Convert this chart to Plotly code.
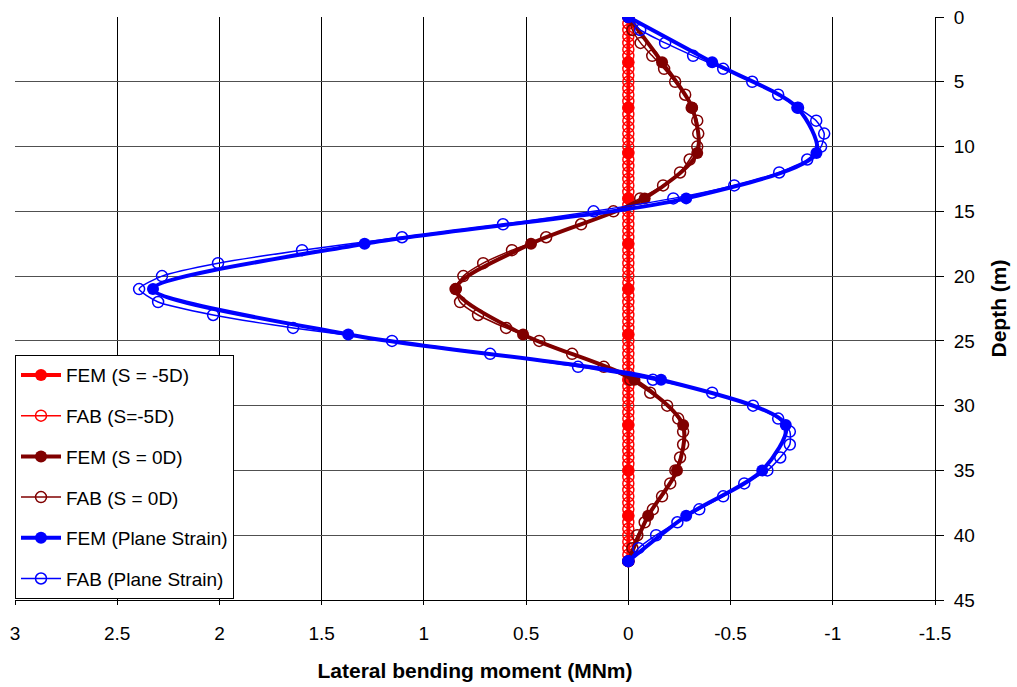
import plotly.graph_objects as go

# Depths (m)
depth_fem = [0, 3.5, 7, 10.5, 14, 17.5, 21, 24.5, 28, 31.5, 35, 38.5, 42]
depth_fab = [0, 1, 2, 3, 4, 5, 6, 7, 8, 9, 10, 11, 12, 13, 14, 15, 16, 17, 18, 19, 20,
             21, 22, 23, 24, 25, 26, 27, 28, 29, 30, 31, 32, 33, 34, 35, 36, 37, 38, 39,
             40, 41, 42]
depth_fab_5d = [0, 0.5, 1, 1.5, 2, 2.5, 3, 3.5, 4, 4.5, 5, 5.5, 6, 6.5, 7, 7.5, 8, 8.5,
                9, 9.5, 10, 10.5, 11, 11.5, 12, 12.5, 13, 13.5, 14, 14.5, 15, 15.5, 16,
                16.5, 17, 17.5, 18, 18.5, 19, 19.5, 20, 20.5, 21, 21.5, 22, 22.5, 23,
                23.5, 24, 24.5, 25, 25.5, 26, 26.5, 27, 27.5, 28, 28.5, 29, 29.5, 30,
                30.5, 31, 31.5, 32, 32.5, 33, 33.5, 34, 34.5, 35, 35.5, 36, 36.5, 37,
                37.5, 38, 38.5, 39, 39.5, 40, 40.5, 41, 41.5, 42]

# Lateral bending moment (MNm)
fem_m5d = [0, 0, 0, 0, 0, 0, 0, 0, 0, 0, 0, 0, 0]
fab_m5d = [0, 0, 0, 0, 0, 0, 0, 0, 0, 0, 0, 0, 0, 0, 0, 0, 0, 0, 0, 0, 0, 0, 0, 0, 0, 0,
           0, 0, 0, 0, 0, 0, 0, 0, 0, 0, 0, 0, 0, 0, 0, 0, 0, 0, 0, 0, 0, 0, 0, 0, 0, 0,
           0, 0, 0, 0, 0, 0, 0, 0, 0, 0, 0, 0, 0, 0, 0, 0, 0, 0, 0, 0, 0, 0, 0, 0, 0, 0,
           0, 0, 0, 0, 0, 0, 0, 0, 0]
fem_0d = [0, -0.165, -0.312, -0.337, -0.08, 0.476, 0.843, 0.515, -0.03, -0.268, -0.238,
          -0.097, 0]
fab_0d = [0, -0.02, -0.06, -0.117, -0.175, -0.229, -0.278, -0.31, -0.337, -0.342, -0.337,
          -0.30, -0.253, -0.17, -0.058, 0.073, 0.231, 0.402, 0.569, 0.71, 0.807, 0.845,
          0.823, 0.735, 0.598, 0.436, 0.275, 0.12, -0.01, -0.107, -0.19, -0.244, -0.268,
          -0.268, -0.253, -0.23, -0.205, -0.165, -0.12, -0.08, -0.044, -0.02, 0]
fem_ps = [0, -0.41, -0.826, -0.92, -0.283, 1.29, 2.325, 1.37, -0.16, -0.77, -0.655,
          -0.283, 0]
fab_ps = [0, -0.058, -0.18, -0.317, -0.464, -0.606, -0.733, -0.83, -0.919, -0.958, -0.943,
          -0.875, -0.738, -0.518, -0.22, 0.17, 0.613, 1.107, 1.596, 2.007, 2.281, 2.393,
          2.30, 2.031, 1.64, 1.156, 0.676, 0.246, -0.12, -0.41, -0.61, -0.733, -0.79,
          -0.79, -0.743, -0.68, -0.567, -0.464, -0.347, -0.24, -0.136, -0.05, 0]

x_ticks = [3, 2.5, 2, 1.5, 1, 0.5, 0, -0.5, -1, -1.5]
x_tick_labels = ["3", "2.5", "2", "1.5", "1", "0.5", "0", "-0.5", "-1", "-1.5"]
y_ticks = [0, 5, 10, 15, 20, 25, 30, 35, 40, 45]

RED = "#FF0000"
MAROON = "#800000"
BLUE = "#0000FF"
FONT = "Arial, 'Liberation Sans', sans-serif"


def fem_trace(x, y, name, color, grp):
    return go.Scatter(
        x=x, y=y, name=name, mode="lines+markers", legendgroup=grp,
        line=dict(color=color, width=4, shape="spline", smoothing=0.8),
        marker=dict(symbol="circle", size=12, color=color),
    )


def fab_trace(x, y, name, color, grp):
    return go.Scatter(
        x=x, y=y, name=name, mode="lines+markers", legendgroup=grp,
        line=dict(color=color, width=1.5, shape="spline", smoothing=0.6),
        marker=dict(symbol="circle-open", size=11, color=color, line=dict(width=1.5, color=color)),
    )


fig = go.Figure()
fig.add_trace(fem_trace(fem_m5d, depth_fem, "FEM (S = -5D)", RED, "a"))
fig.add_trace(fab_trace(fab_m5d, depth_fab_5d, "FAB (S=-5D)", RED, "b"))
fig.add_trace(fem_trace(fem_0d, depth_fem, "FEM (S = 0D)", MAROON, "c"))
fig.add_trace(fab_trace(fab_0d, depth_fab, "FAB (S = 0D)", MAROON, "d"))
fig.add_trace(fem_trace(fem_ps, depth_fem, "FEM (Plane Strain)", BLUE, "e"))
fig.add_trace(fab_trace(fab_ps, depth_fab, "FAB (Plane Strain)", BLUE, "f"))

fig.update_layout(
    width=1017, height=687,
    margin=dict(l=15, r=82, t=17, b=87),
    paper_bgcolor="white", plot_bgcolor="white",
    font=dict(family=FONT, size=18, color="black"),
    showlegend=True,
    legend=dict(
        x=0, y=0.42, xanchor="left", yanchor="top",
        bgcolor="white", bordercolor="black", borderwidth=1,
        font=dict(size=19), tracegroupgap=13, itemwidth=40,
        traceorder="grouped",
    ),
    xaxis=dict(
        range=[3, -1.5], tickmode="array", tickvals=x_ticks, ticktext=x_tick_labels,
        showgrid=True, gridcolor="black", gridwidth=1, zeroline=False,
        showline=True, linecolor="black", linewidth=1,
        ticks="outside", ticklen=4, tickcolor="black",
        tickfont=dict(size=19), ticklabelstandoff=12, automargin=False,
        title=dict(text="<b>Lateral bending moment (MNm)</b>", font=dict(size=21), standoff=20),
    ),
    yaxis=dict(
        range=[45, 0], side="right", tickmode="array", tickvals=y_ticks,
        showgrid=True, gridcolor="#505050", gridwidth=1, zeroline=False,
        showline=True, linecolor="black", linewidth=1,
        ticks="outside", ticklen=8, tickcolor="black",
        tickfont=dict(size=19), ticklabelstandoff=6, automargin=False,
        title=dict(text="<b>Depth (m)</b>", font=dict(size=21), standoff=17),
    ),
)

fig.write_html("out.html")
